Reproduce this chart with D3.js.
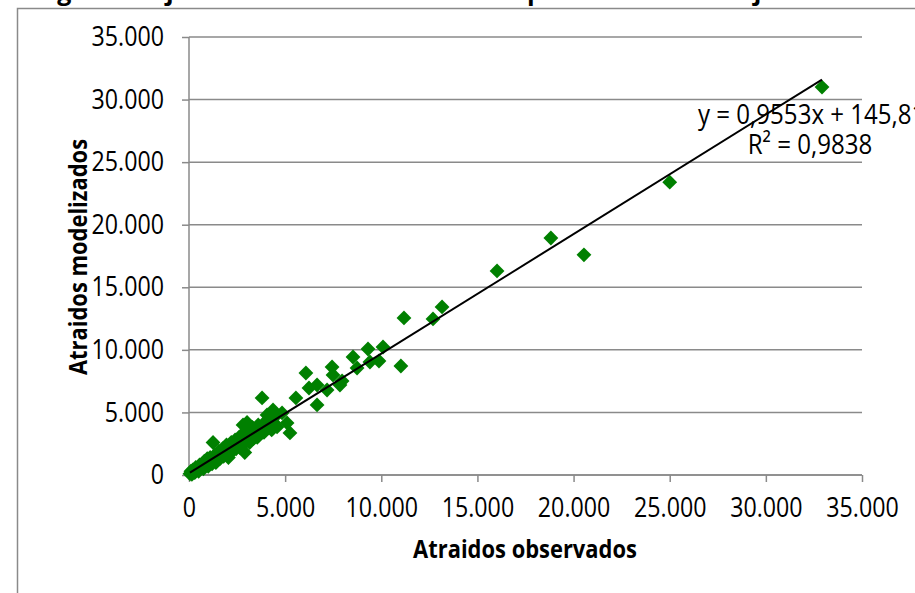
<!DOCTYPE html>
<html>
<head>
<meta charset="utf-8">
<script src="https://cdn.jsdelivr.net/npm/d3@7"></script>
<style>
  body { margin: 0; background: #fff; }
  svg { display: block; }
  text { font-family: "Open Sans", "Noto Sans", sans-serif; fill: #000; }
</style>
</head>
<body>
<div id="scatter"></div>
<script>
// DATOS: ATRAIDOS OBSERVADOS (X) Y MODELIZADOS (Y), EN MILES
let observados = [
  0.05, 0.1, 0.15, 0.2, 0.3, 0.35, 0.4, 0.5, 0.55, 0.6, 0.7, 0.75, 0.8, 0.9, 0.95,
  1.0, 1.05, 1.1, 1.2, 1.25, 1.3, 1.35, 1.4, 1.5, 1.55, 1.6, 1.7, 1.75, 1.8, 1.9,
  1.95, 2.0, 2.05, 2.1, 2.2, 2.25, 2.3, 2.4, 2.45, 2.5, 2.6, 2.65, 2.7, 2.8, 2.81,
  2.85, 2.9, 2.95, 3.0, 3.02, 3.1, 3.15, 3.2, 3.3, 3.35, 3.4, 3.5, 3.55, 3.6, 3.7,
  3.8, 3.9, 4.0, 4.1, 4.2, 4.3, 4.4, 4.5,
  3.8, 4.37, 4.84, 4.06, 5.1, 5.25, 4.58, 5.56, 6.08, 6.66, 6.24, 7.18, 6.66,
  7.44, 7.49, 7.96, 7.85, 8.53, 8.74, 9.31, 9.41, 9.88, 10.09, 11.02, 11.18,
  12.69, 13.16, 16.02, 18.82, 20.54, 25.0, 32.92
];
let modelizados = [
  0.1, 0.3, 0.05, 0.4, 0.2, 0.6, 0.5, 0.3, 0.8, 0.6, 0.9, 0.5, 1.1, 0.8, 1.3,
  0.7, 1.0, 1.4, 0.9, 2.6, 1.2, 1.6, 1.0, 1.5, 1.9, 1.3, 1.7, 2.1, 1.5, 2.0,
  2.4, 1.6, 1.4, 2.2, 2.6, 1.9, 2.3, 2.8, 2.1, 2.5, 3.0, 2.2, 2.7, 3.3, 4.0,
  2.5, 1.8, 3.1, 2.8, 4.2, 3.5, 2.6, 3.2, 3.8, 2.9, 3.4, 3.6, 3.0, 4.0, 3.5,
  3.9, 3.4, 4.3, 3.8, 4.6, 3.6, 4.2, 4.7,
  6.16, 5.2, 4.96, 4.8, 4.16, 3.36, 3.84, 6.16, 8.15, 7.19, 6.95, 6.79, 5.6,
  8.63, 7.99, 7.51, 7.19, 9.43, 8.55, 10.07, 9.03, 9.11, 10.23, 8.71, 12.55,
  12.47, 13.43, 16.31, 18.94, 17.59, 23.4, 31.0
];

// TICKS Y TENDENCIA LINEAL
let ticks = [0, 5000, 10000, 15000, 20000, 25000, 30000, 35000];
let pendiente = 0.9553;
let intercepto = 145.81;
let ecuacion = ["y = 0,9553x + 145,81", "R² = 0,9838"];
let titulo = "Figura 4: Ajuste del modelo de atraidos para motivo trabajo";

let datos = observados.map((d, i) => ({ x: d * 1000, y: modelizados[i] * 1000 }));

let svgWidth = 915;
let svgHeight = 593;
let margin = { top: 37, right: 53, bottom: 118, left: 189 };
let chartWidth = svgWidth - margin.left - margin.right;
let chartHeight = svgHeight - margin.top - margin.bottom;

// ESTRECHAR TEXTO (LA FUENTE ORIGINAL ES MAS ANGOSTA)
let sx = 0.86;

let svg = d3.select("#scatter")
  .append("svg")
  .attr("width", svgWidth)
  .attr("height", svgHeight);

// texto angosto en (x, y)
function narrowText(x, y, str, size, bold, anchor, rot, escala) {
  let s = escala || sx;
  let t = svg.append("text")
    .attr("transform", `translate(${x}, ${y})` + (rot ? ` rotate(${rot})` : "") + ` scale(${s}, 1)`)
    .attr("font-size", size + "px")
    .attr("text-anchor", anchor || "start")
    .text(str);
  if (bold) t.attr("font-weight", "bold");
  return t;
}

// TITULO CORTADO ARRIBA
narrowText(36, 0, titulo, 25, true, "start", 0, 1);

// MARCO DEL GRAFICO
svg.append("rect")
  .attr("x", 17.5)
  .attr("y", 8.5)
  .attr("width", 1000)
  .attr("height", 1000)
  .attr("fill", "none")
  .attr("stroke", "#8a8a8a")
  .attr("stroke-width", 1.5);

let chartGroup = svg.append("g")
  .attr("transform", `translate(${margin.left}, ${margin.top})`);

let fmt = d => d3.format(",")(d).replace(/,/g, ".");

let xScale = d3.scaleLinear().domain([0, 35000]).range([0, chartWidth]);
let yScale = d3.scaleLinear().domain([0, 35000]).range([chartHeight, 0]);

// LINEAS DE GRILLA
chartGroup.append("g")
  .selectAll("line")
  .data(ticks)
  .enter()
  .append("line")
  .attr("x1", 0)
  .attr("x2", chartWidth)
  .attr("y1", d => yScale(d))
  .attr("y2", d => yScale(d))
  .attr("stroke", "#8a8a8a")
  .attr("stroke-width", 1.5);

// EJES
let yAxis = d3.axisLeft(yScale).tickValues(ticks).tickFormat(fmt).tickSize(7);
let xAxis = d3.axisBottom(xScale).tickValues(ticks).tickFormat(fmt).tickSize(7).tickPadding(16);

let gy = chartGroup.append("g").call(yAxis);
let gx = chartGroup.append("g")
  .attr("transform", `translate(0, ${chartHeight})`)
  .call(xAxis);

[gx, gy].forEach(g => {
  g.select(".domain").attr("stroke", "#8a8a8a").attr("stroke-width", 1.5);
  g.selectAll(".tick line").attr("stroke", "#8a8a8a").attr("stroke-width", 1.5);
  g.selectAll(".tick text").attr("font-size", "27px").attr("fill", "#000")
    .style("font-family", "'Open Sans', 'Noto Sans', sans-serif");
});
gx.selectAll(".tick text").attr("transform", `scale(${sx}, 1)`);
gy.selectAll(".tick text")
  .attr("x", -25 / sx)
  .attr("transform", `scale(${sx}, 1)`);
gy.select(".domain").attr("d", `M0,${chartHeight}V0`);
gx.select(".domain").attr("d", `M0,0H${chartWidth}`);

// PUNTOS (ROMBOS)
chartGroup.append("g")
  .selectAll("path")
  .data(datos)
  .enter()
  .append("path")
  .attr("d", d3.symbol().type(d3.symbolSquare).size(110))
  .attr("transform", d => `translate(${xScale(d.x)}, ${yScale(d.y)}) rotate(45)`)
  .attr("fill", "#008000");

// LINEA DE TENDENCIA
let xmin = d3.min(datos, d => d.x);
let xmax = d3.max(datos, d => d.x);
chartGroup.append("line")
  .attr("x1", xScale(xmin))
  .attr("y1", yScale(pendiente * xmin + intercepto))
  .attr("x2", xScale(xmax))
  .attr("y2", yScale(pendiente * xmax + intercepto))
  .attr("stroke", "#000")
  .attr("stroke-width", 2);

// ECUACION
narrowText(698, 124, ecuacion[0], 28);
narrowText(810, 154, ecuacion[1], 28, false, "middle");

// TITULOS DE EJES
narrowText(525, 558, "Atraidos observados", 25.5, true, "middle");
narrowText(87, 257, "Atraidos modelizados", 25.5, true, "middle", -90);
</script>
</body>
</html>
